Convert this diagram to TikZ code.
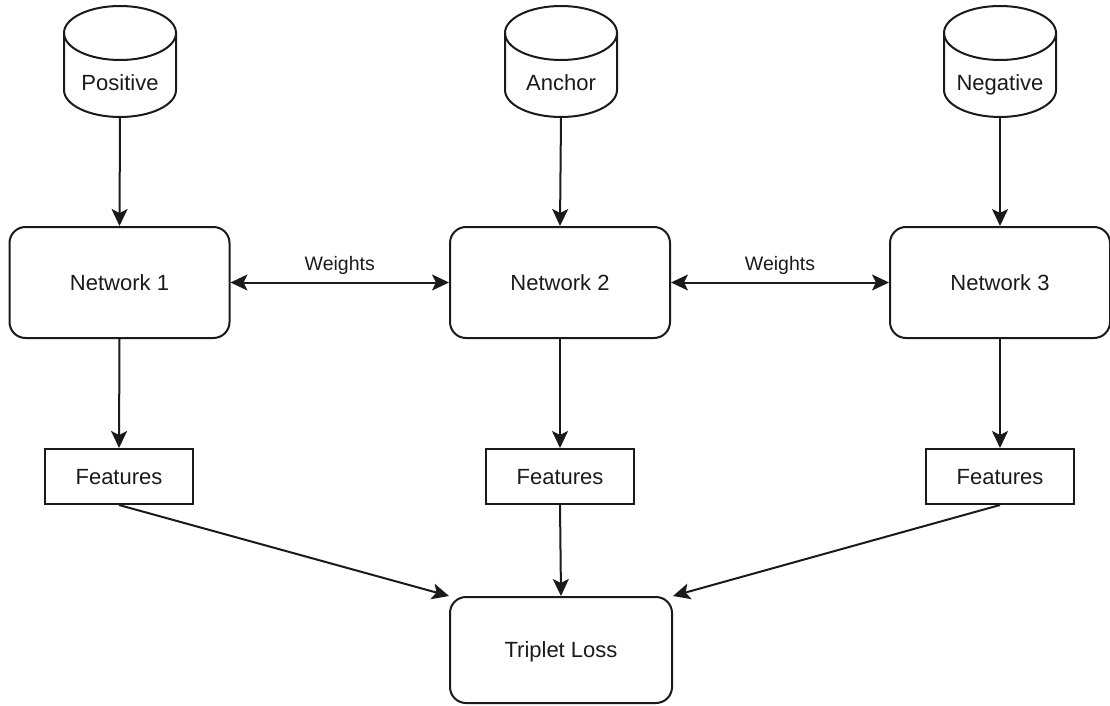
\documentclass[tikz,border=0pt]{standalone}
\usepackage{fontspec}
\setmainfont{Liberation Sans}
\usetikzlibrary{arrows.meta,positioning}
\definecolor{ink}{HTML}{1A1A1A}

% cylinder-shaped data store: name, centre x, label
\newcommand{\datastore}[3]{%
  \node[storebox] (#1) at (#2,61.5) {};
  \draw[stroke] (#2,33) ellipse [x radius=56pt, y radius=27pt];
  \draw[stroke] (#2-56,33) -- (#2-56,90)
     arc[start angle=180, end angle=360, x radius=56pt, y radius=27pt]
     -- (#2+56,33);
  \node[lbl, anchor=base] (#1-text) at (#2,91) {#3};
}

\begin{document}
\begin{tikzpicture}[x=1pt,y=-1pt,
  stroke/.style={draw=ink, line width=2pt},
  lbl/.style={text=ink, font=\fontsize{22}{26}\selectfont, inner sep=0pt},
  small/.style={text=ink, font=\fontsize{19.5}{23}\selectfont, inner sep=0pt},
  storebox/.style={minimum width=112pt, minimum height=111pt, inner sep=0pt},
  boxtext/.style={text=ink, font=\fontsize{22}{26}\selectfont, inner sep=0pt,
     text height=15.8pt, text depth=0pt},
  netbox/.style={stroke, boxtext, rounded corners=16pt, minimum width=220pt, minimum height=111pt},
  featbox/.style={stroke, boxtext, minimum width=148pt, minimum height=55pt},
  arr/.style={stroke, -{Stealth[length=17pt, width=16pt, inset=4pt]}},
  darr/.style={stroke, {Stealth[length=17pt, width=16pt, inset=4pt]}-{Stealth[length=17pt, width=16pt, inset=4pt]}},
]
\useasboundingbox (0,0) rectangle (1110,706);

% data sources
\datastore{pos}{120}{Positive}
\datastore{anc}{561}{Anchor}
\datastore{neg}{1000}{Negative}

% networks
\node[netbox] (net1) at (119.5,282.5) {Network 1};
\node[netbox] (net2) at (560,282.5) {Network 2};
\node[netbox] (net3) at (1000,282.5) {Network 3};

% feature vectors
\node[featbox] (fe1) at (119,476.5) {Features};
\node[featbox] (fe2) at (560,476.5) {Features};
\node[featbox] (fe3) at (1000,476.5) {Features};

% loss
\node[netbox, minimum width=222pt, minimum height=106pt] (loss) at (561,650) {Triplet Loss};

% inputs
\draw[arr] (pos.south) -- (net1.north);
\draw[arr] (anc.south) -- (net2.north);
\draw[arr] (neg.south) -- (net3.north);

% shared weights
\draw[darr] (net1.east) -- (net2.west) node[small, midway, anchor=base, yshift=12pt] (w1) {Weights};
\draw[darr] (net2.east) -- (net3.west) node[small, midway, anchor=base, yshift=12pt] (w2) {Weights};

% embeddings
\draw[arr] (net1.south) -- (fe1.north);
\draw[arr] (net2.south) -- (fe2.north);
\draw[arr] (net3.south) -- (fe3.north);

% to the loss
\draw[arr] (fe1.south) -- (loss.north west);
\draw[arr] (fe2.south) -- (loss.north);
\draw[arr] (fe3.south) -- (loss.north east);
\end{tikzpicture}
\end{document}
